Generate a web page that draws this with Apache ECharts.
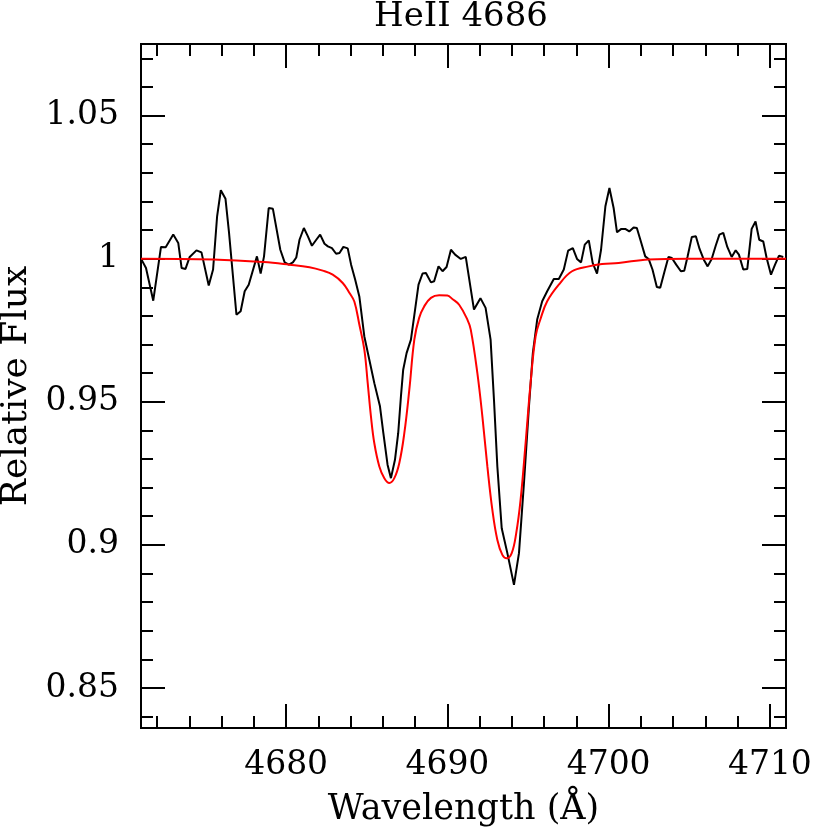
<!DOCTYPE html>
<html>
<head>
<meta charset="utf-8">
<script src="https://cdn.jsdelivr.net/npm/echarts@6/dist/echarts.min.js"></script>
<style>
  html, body { margin: 0; padding: 0; background: #fff; }
  #chart { width: 830px; height: 830px; }
</style>
</head>
<body>
<div id="chart"></div>
<script>
// observed spectrum (wavelength, relative flux)
const obsWave = [
  4671.0, 4671.31, 4671.76, 4672.24, 4672.53, 4673.0, 4673.31, 4673.52, 4673.76, 4674.02,
  4674.44, 4674.75, 4675.2, 4675.47, 4675.72, 4675.95, 4676.24, 4676.46, 4676.92, 4677.18,
  4677.43, 4677.68, 4678.19, 4678.42, 4678.63, 4678.92, 4679.18, 4679.64, 4679.91, 4680.17,
  4680.42, 4680.63, 4680.83, 4681.1, 4681.35, 4681.6, 4681.87, 4682.11, 4682.38, 4682.59,
  4682.84, 4683.1, 4683.31, 4683.55, 4683.82, 4684.03, 4684.28, 4684.54, 4684.85, 4685.16,
  4685.47, 4685.82, 4686.03, 4686.29, 4686.5, 4686.75, 4686.95, 4687.12, 4687.26, 4687.47,
  4687.74, 4687.94, 4688.21, 4688.46, 4688.67, 4688.98, 4689.18, 4689.45, 4689.7, 4689.95,
  4690.22, 4690.48, 4690.83, 4691.14, 4691.65, 4692.05, 4692.37, 4692.68, 4692.89, 4693.1,
  4693.37, 4693.72, 4694.13, 4694.44, 4694.75, 4695.06, 4695.3, 4695.57, 4695.88, 4696.19,
  4696.6, 4696.91, 4697.22, 4697.49, 4697.78, 4698.04, 4698.29, 4698.52, 4698.77, 4699.01,
  4699.28, 4699.53, 4699.8, 4700.05, 4700.31, 4700.52, 4700.79, 4701.03, 4701.28, 4701.55,
  4701.75, 4702.0, 4702.27, 4702.48, 4702.72, 4702.99, 4703.2, 4703.47, 4703.71, 4703.92,
  4704.19, 4704.48, 4704.69, 4704.89, 4705.16, 4705.41, 4705.64, 4705.92, 4706.14, 4706.39,
  4706.64, 4706.87, 4707.11, 4707.36, 4707.63, 4707.88, 4708.08, 4708.35, 4708.6, 4708.87,
  4709.11, 4709.34, 4709.59, 4709.8, 4710.07, 4710.32, 4710.56, 4710.83
];
const obsFlux = [
  1.0000, 0.9967, 0.9853, 1.0041, 1.0040, 1.0084, 1.0055, 0.9967, 0.9964, 1.0006,
  1.0029, 1.0022, 0.9906, 0.9962, 1.0148, 1.0239, 1.0209, 1.0090, 0.9804, 0.9816,
  0.9886, 0.9909, 1.0008, 0.9948, 1.0008, 1.0177, 1.0174, 1.0031, 0.9987, 0.9979,
  0.9987, 1.0004, 1.0066, 1.0107, 1.0078, 1.0045, 1.0066, 1.0084, 1.0052, 1.0043,
  1.0037, 1.0017, 1.0020, 1.0041, 1.0036, 0.9979, 0.9927, 0.9868, 0.9728, 0.9647,
  0.9565, 0.9484, 0.9390, 0.9280, 0.9233, 0.9297, 0.9390, 0.9519, 0.9612, 0.9670,
  0.9717, 0.9798, 0.9909, 0.9948, 0.9950, 0.9917, 0.9921, 0.9973, 0.9956, 0.9971,
  1.0031, 1.0014, 0.9999, 1.0006, 0.9822, 0.9862, 0.9828, 0.9717, 0.9507, 0.9273,
  0.9058, 0.8971, 0.8860, 0.8971, 0.9216, 0.9484, 0.9670, 0.9787, 0.9851, 0.9886,
  0.9929, 0.9929, 0.9962, 1.0028, 1.0037, 0.9999, 0.9987, 1.0049, 1.0064, 0.9985,
  0.9948, 1.0031, 1.0183, 1.0247, 1.0177, 1.0092, 1.0104, 1.0104, 1.0095, 1.0109,
  1.0107, 1.0060, 1.0008, 0.9999, 0.9962, 0.9901, 0.9898, 0.9956, 1.0006, 1.0002,
  0.9979, 0.9956, 0.9958, 1.0006, 1.0076, 1.0078, 1.0034, 0.9994, 0.9973, 0.9999,
  1.0045, 1.0084, 1.0090, 1.0041, 1.0006, 1.0029, 1.0014, 0.9962, 0.9964, 1.0104,
  1.0130, 1.0066, 1.0060, 1.0002, 0.9944, 0.9979, 1.0010, 1.0006
];

// model fit (red)
const fitWave = [
  4671.0, 4675.5, 4678.6, 4680.2, 4681.45, 4682.27, 4682.89, 4683.51, 4683.93, 4684.23,
  4684.54, 4684.85, 4685.06, 4685.26, 4685.47, 4685.78, 4686.09, 4686.4, 4686.71, 4687.02,
  4687.33, 4687.64, 4687.95, 4688.25, 4688.56, 4688.98, 4689.49, 4690.0, 4690.31, 4690.73,
  4691.24, 4691.45, 4691.86, 4692.17, 4692.48, 4692.79, 4693.1, 4693.41, 4693.68, 4693.99,
  4694.27, 4694.54, 4694.85, 4695.16, 4695.47, 4695.78, 4696.19, 4696.91, 4697.73, 4698.77,
  4699.59, 4700.62, 4702.48, 4704.95, 4711.0
];
const fitFlux = [
  1.0000, 0.9997, 0.9988, 0.9979, 0.9970, 0.9958, 0.9944, 0.9915, 0.9880, 0.9850,
  0.9770, 0.9682, 0.9565, 0.9449, 0.9355, 0.9274, 0.9233, 0.9216, 0.9233, 0.9286,
  0.9390, 0.9542, 0.9717, 0.9793, 0.9833, 0.9863, 0.9872, 0.9871, 0.9859, 0.9839,
  0.9787, 0.9752, 0.9600, 0.9449, 0.9274, 0.9122, 0.9017, 0.8965, 0.8953, 0.8971,
  0.9041, 0.9157, 0.9355, 0.9565, 0.9728, 0.9790, 0.9851, 0.9909, 0.9956, 0.9973,
  0.9981, 0.9985, 0.9997, 1.0000, 1.0000
];

const xMajor = [4680, 4690, 4700, 4710];
const xMinor = [];
for (let v = 4672; v <= 4710; v += 2) xMinor.push(v);
const yMajor = [0.85, 0.9, 0.95, 1, 1.05];
const yMinor = [];
for (let i = 84; i <= 107; i++) yMinor.push(i / 100);

const X_MIN = 4671, X_MAX = 4711;
const Y_MIN = 0.836, Y_MAX = 1.075;

const FONT = 'DejaVu Serif';
const line = { show: true, lineStyle: { color: '#000', width: 2 } };

function xAx(pos, ticks, len, opts) {
  return Object.assign({
    type: 'value', position: pos, min: X_MIN, max: X_MAX,
    axisLine: line,
    axisTick: { show: true, inside: true, length: len, customValues: ticks, lineStyle: { color: '#000', width: 2 } },
    axisLabel: { show: false },
    splitLine: { show: false }
  }, opts || {});
}
function yAx(pos, ticks, len, opts) {
  return Object.assign({
    type: 'value', position: pos, min: Y_MIN, max: Y_MAX,
    axisLine: line,
    axisTick: { show: true, inside: true, length: len, customValues: ticks, lineStyle: { color: '#000', width: 2 } },
    axisLabel: { show: false },
    splitLine: { show: false }
  }, opts || {});
}

const chart = echarts.init(document.getElementById('chart'));
chart.setOption({
  animation: false,
  backgroundColor: '#fff',
  title: {
    text: 'HeII 4686', left: 369, top: -5,
    textStyle: { fontFamily: FONT, fontSize: 34, fontWeight: 'normal', color: '#000' }
  },
  grid: { left: 141, right: 44, top: 44, bottom: 102, outerBoundsMode: 'none' },
  xAxis: [
    xAx('bottom', xMajor, 24, {
      axisLabel: {
        show: true, customValues: xMajor, margin: 21, color: '#000', fontFamily: FONT, fontSize: 33,
        formatter: v => String(v)
      },
      name: 'Wavelength (Å)', nameLocation: 'middle', nameGap: 64,
      nameTextStyle: { fontFamily: FONT, fontSize: 35, color: '#000' }
    }),
    xAx('bottom', xMinor, 12),
    xAx('top', xMajor, 24),
    xAx('top', xMinor, 12)
  ],
  yAxis: [
    yAx('left', yMajor, 24, {
      axisLabel: { show: true, customValues: yMajor, margin: 22, color: '#000', fontFamily: FONT, fontSize: 33 },
      name: 'Relative Flux', nameLocation: 'middle', nameGap: 101,
      nameTextStyle: { fontFamily: FONT, fontSize: 36, color: '#000' }
    }),
    yAx('left', yMinor, 12),
    yAx('right', yMajor, 24),
    yAx('right', yMinor, 12)
  ],
  series: [
    {
      name: 'observed', type: 'line', xAxisIndex: 0, yAxisIndex: 0,
      data: obsWave.map((w, i) => [w, obsFlux[i]]),
      showSymbol: false, lineStyle: { color: '#000', width: 2 }
    },
    {
      name: 'model', type: 'line', xAxisIndex: 0, yAxisIndex: 0,
      data: fitWave.map((w, i) => [w, fitFlux[i]]),
      showSymbol: false, smooth: 0.4, lineStyle: { color: '#ff0000', width: 2 }
    }
  ]
});
</script>
</body>
</html>
